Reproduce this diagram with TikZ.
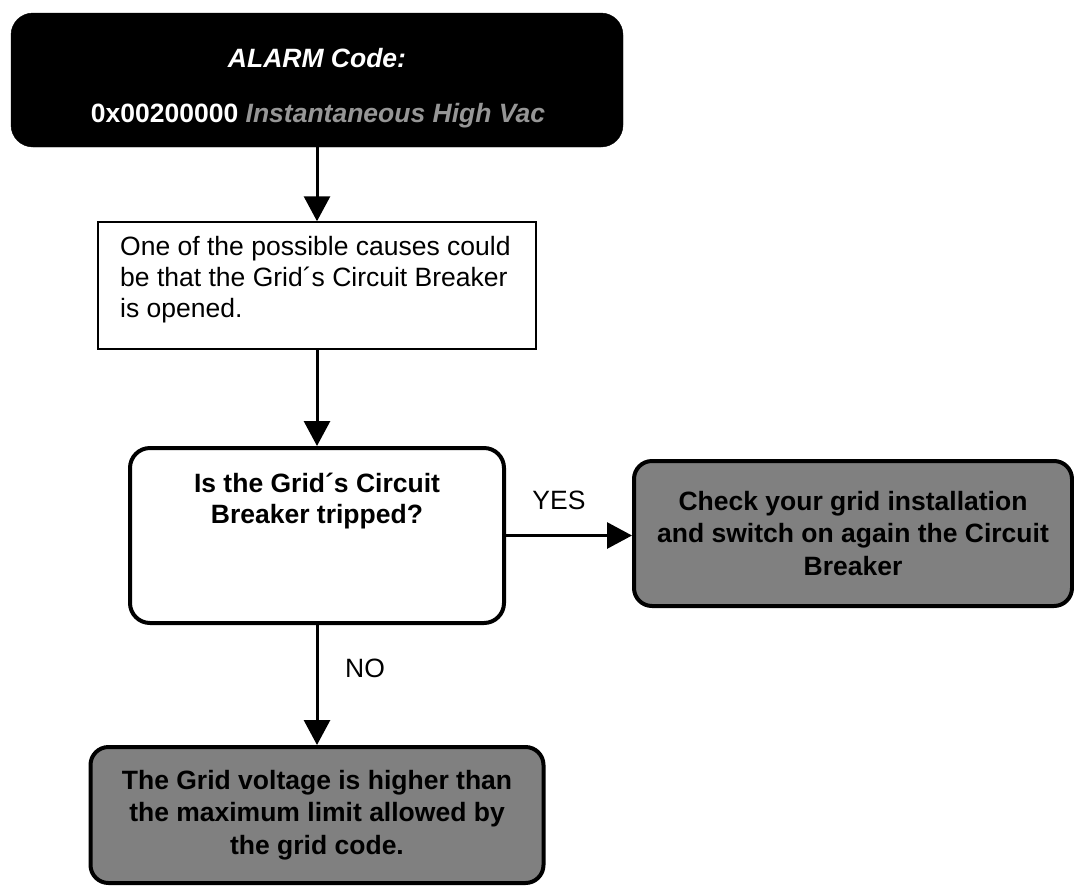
\documentclass[tikz,border=0pt]{standalone}
\usepackage{fontspec}
\setmainfont{Liberation Sans}
\usetikzlibrary{arrows.meta}
\definecolor{codegray}{RGB}{150,150,150}
\definecolor{boxgray}{RGB}{128,128,128}
\begin{document}
\begin{tikzpicture}[x=1pt,y=-1pt,
  every node/.style={font=\fontsize{26.5}{31}\selectfont, inner sep=0pt},
  conn/.style={line width=3pt,-{Triangle[length=25pt,width=26pt]}},
  alarmbox/.style={fill=black, draw=black, rounded corners=22pt},
  causebox/.style={draw=black, line width=1.5pt, fill=white},
  decbox/.style={draw=black, line width=4pt, rounded corners=20pt, fill=white},
  actbox/.style={draw=black, line width=4pt, rounded corners=18pt, fill=boxgray,
                 align=center, font=\fontsize{26.5}{32.5}\selectfont\bfseries},
  lbl/.style={font=\fontsize{26.5}{31}\selectfont}
]
\useasboundingbox (0,0) rectangle (1074,887);

% alarm header
\node[alarmbox, minimum width=612pt, minimum height=134pt] (alarm) at (317,80) {};
\node[text=white, font=\fontsize{26.5}{31}\selectfont\bfseries\itshape] (alarmtitle) at (317,58) {ALARM Code:};
\node[text=white, font=\fontsize{26.5}{31}\selectfont\bfseries] (alarmcode) at (318,116)
  {0x00200000 \textcolor{codegray}{\itshape Instantaneous High Vac}};

% possible cause
\node[causebox, minimum width=438pt, minimum height=127pt] (cause) at (317,285.5) {};
\node[align=left, anchor=west] (causetext) at (120,280)
  {One of the possible causes could\\be that the Grid\char"00B4 s Circuit Breaker\\is opened.};

% decision
\node[decbox, minimum width=374pt, minimum height=175pt] (dec) at (317,535.5) {};
\node[align=center, font=\fontsize{26.5}{31}\selectfont\bfseries] (dectext) at (317,501)
  {Is the Grid\char"00B4 s Circuit\\Breaker tripped?};

% outcomes
\node[actbox, minimum width=438pt, minimum height=145pt] (yesbox) at (853,533.5)
  {Check your grid installation\\and switch on again the Circuit\\Breaker};
\node[actbox, minimum width=453pt, minimum height=136pt] (nobox) at (317,815)
  {The Grid voltage is higher than\\the maximum limit allowed by\\the grid code.};

% connectors
\draw[conn] (alarm.south) -- (cause.north);
\draw[conn] (cause.south) -- (dec.north);
\draw[conn] (dec.east) -- (dec.east -| yesbox.west);
\draw[conn] (dec.south) -- (nobox.north);

% branch labels
\node[lbl] (yeslbl) at (559,500) {YES};
\node[lbl] (nolbl) at (365,668) {NO};
\end{tikzpicture}
\end{document}
